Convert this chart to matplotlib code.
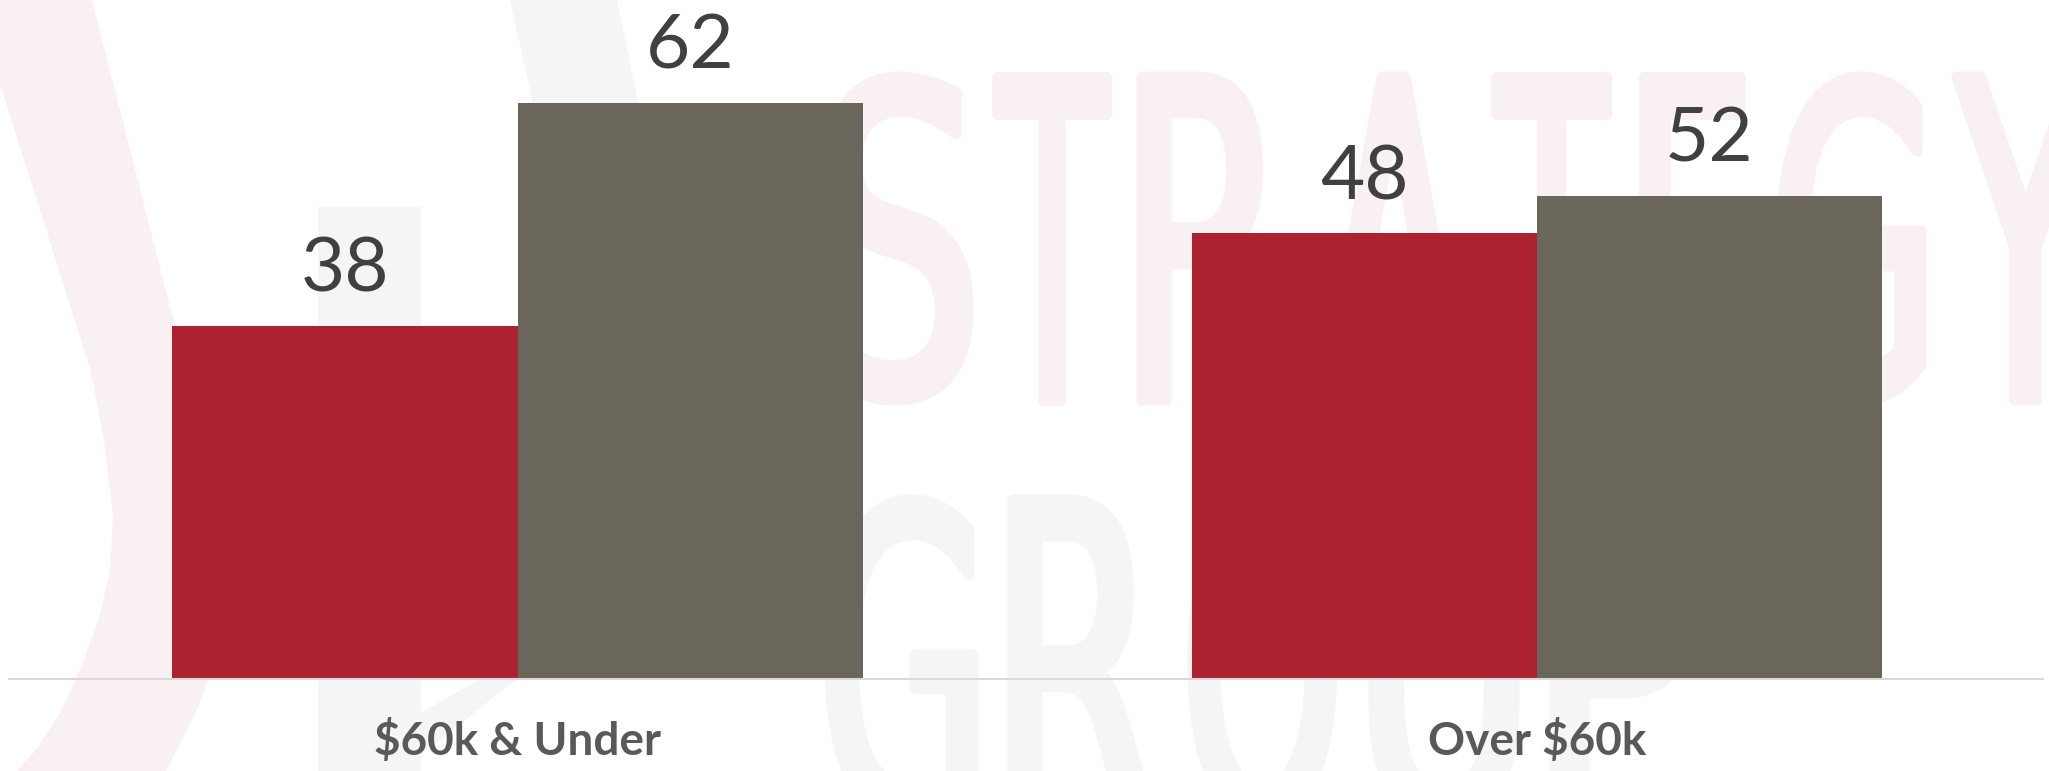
import matplotlib
matplotlib.use("Agg")
import matplotlib.pyplot as plt
from matplotlib.textpath import TextPath
from matplotlib.patches import PathPatch, Polygon, Rectangle
from matplotlib.font_manager import FontProperties
from matplotlib.transforms import Affine2D
import numpy as np

# ---------------- data ----------------
categories = ["$60k & Under", "Over $60k"]
series_red = [38, 48]
series_gray = [62, 52]

RED = "#AD2231"
GRAY = "#6A665B"
W, H = 2049, 771

fig = plt.figure(figsize=(W / 100, H / 100), dpi=100)
fig.patch.set_facecolor("white")

# ---------------- faint watermark (background decoration) ----------------
bg = fig.add_axes([0, 0, 1, 1], zorder=0)
bg.set_xlim(0, W)
bg.set_ylim(H, 0)
bg.axis("off")

PINK_W = "#F9F0F1"
GRAY_W = "#F5F5F5"

# left pink swoosh
pink_left = [(0, 84), (45, 226), (90, 369), (104, 440), (113, 516), (110, 570),
             (100, 615), (84, 660), (62, 710), (36, 750), (17, 771)]
pink_right = [(166, 771), (197, 710), (222, 640), (236, 560), (226, 450),
              (172, 315), (92, 0)]
bg.add_patch(Polygon(pink_left + pink_right + [(0, 0)], closed=True,
                     facecolor=PINK_W, edgecolor="none"))
# gray swoosh & stem
bg.add_patch(Polygon([(510, 0), (533, 103), (560, 300), (555, 500), (480, 679),
                      (319, 771), (400, 771), (517, 679), (660, 500), (670, 300),
                      (638, 103), (617, 0)], closed=True,
                     facecolor=GRAY_W, edgecolor="none"))
bg.add_patch(Rectangle((318, 207), 103, 600, facecolor=GRAY_W, edgecolor="none"))

fp_w = FontProperties(family="DejaVu Sans", weight="normal")


def wm_letter(ch, x0, x1, ytop, ybot, color):
    tp = TextPath((0, 0), ch, size=100, prop=fp_w)
    ext = tp.get_extents()
    pad = 6
    sx = (x1 - x0 - 2 * pad) / ext.width
    sy = (ybot - ytop - 2 * pad) / ext.height
    tr = (Affine2D().translate(-ext.x0, -ext.y1).scale(sx, -sy)
          .translate(x0 + pad, ytop + pad))
    bg.add_patch(PathPatch(tr.transform_path(tp), facecolor=color,
                           edgecolor=color, lw=8, joinstyle="round"))


strategy_boxes = [("S", 824, 974), ("T", 991, 1112), ("R", 1136, 1287),
                  ("A", 1318, 1469), ("T", 1490, 1612), ("E", 1638, 1748),
                  ("G", 1776, 1927), ("Y", 1951, 2100)]
for ch, a, b in strategy_boxes:
    wm_letter(ch, a, b, 71, 406, PINK_W)

group_boxes = [("G", 824, 979), ("R", 1007, 1158), ("O", 1187, 1338),
               ("U", 1368, 1520), ("P", 1549, 1700)]
for ch, a, b in group_boxes:
    wm_letter(ch, a, b, 494, 829, GRAY_W)

# ---------------- main chart ----------------
ax = fig.add_axes([9 / W, (H - 679) / H, 2034 / W, 679 / H], zorder=1)
ax.patch.set_alpha(0)

x = np.arange(len(categories))
width = 0.3385
bars_r = ax.bar(x - width / 2, series_red, width, color=RED, edgecolor="none", zorder=2)
bars_g = ax.bar(x + width / 2, series_gray, width, color=GRAY, edgecolor="none", zorder=2)

ax.set_xlim(-0.4989, 1.4966)
ax.set_ylim(0, 73.09)

for bars in (bars_r, bars_g):
    for b in bars:
        ax.annotate(f"{b.get_height():.0f}",
                    xy=(b.get_x() + b.get_width() / 2, b.get_height()),
                    xytext=(0, 24.5), textcoords="offset points",
                    ha="center", va="baseline", fontsize=55,
                    family="Lato", color="#404040")

for s in ("left", "right", "top"):
    ax.spines[s].set_visible(False)
ax.spines["bottom"].set_color("#D9D9D9")
ax.spines["bottom"].set_linewidth(1.5)
ax.set_yticks([])
ax.set_xticks(x)
ax.set_xticklabels(categories, fontsize=33, fontweight="bold",
                   family="Lato", color="#595959")
ax.tick_params(axis="x", length=0, pad=54.7)
for t in ax.get_xticklabels():
    t.set_va("baseline")

fig.savefig("out.png", dpi=100, facecolor="white")
